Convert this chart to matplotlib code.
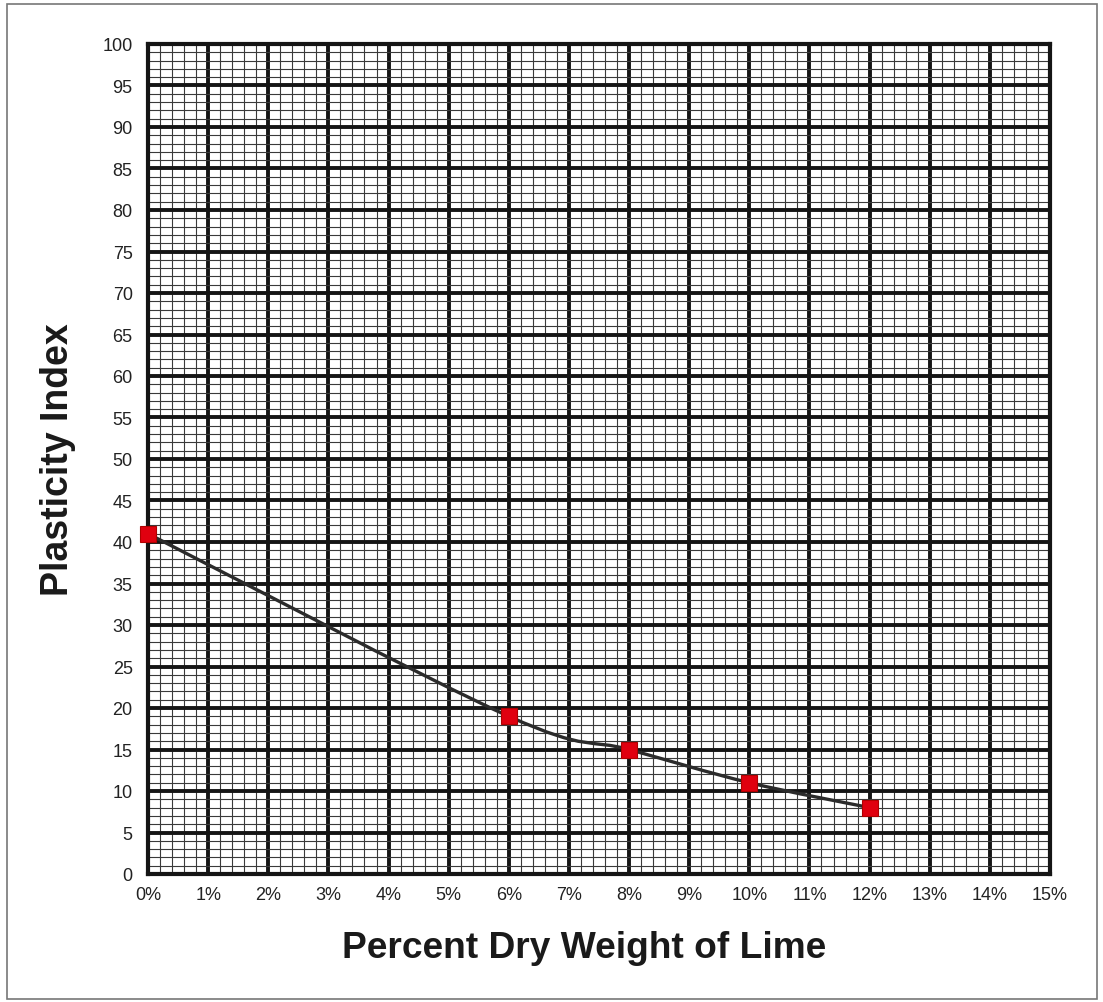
import matplotlib
matplotlib.use("Agg")
import matplotlib.pyplot as plt
from matplotlib.path import Path
from matplotlib.patches import PathPatch, Rectangle
from matplotlib.ticker import MultipleLocator, FuncFormatter
import numpy as np

plt.rcParams['font.family'] = ['Liberation Sans', 'DejaVu Sans']

lime_pct = [0, 6, 8, 10, 12]
plasticity = [41, 19, 15, 11, 8]
x_label = "Percent Dry Weight of Lime"
y_label = "Plasticity Index"

fig = plt.figure(figsize=(11.03, 10.03), dpi=100)
ax = fig.add_axes([148/1103, 1 - 875/1003, (1050-148)/1103, (875-45)/1003])

ax.set_xlim(0, 15)
ax.set_ylim(0, 100)
ax.xaxis.set_major_locator(MultipleLocator(1))
ax.xaxis.set_minor_locator(MultipleLocator(0.2))
ax.yaxis.set_major_locator(MultipleLocator(5))
ax.yaxis.set_minor_locator(MultipleLocator(1))
ax.xaxis.set_major_formatter(FuncFormatter(lambda v, p: f"{int(round(v))}%"))
ax.yaxis.set_major_formatter(FuncFormatter(lambda v, p: f"{int(round(v))}"))

ax.grid(which='minor', color='#3a3a3a', linewidth=0.8)
ax.grid(which='major', color='#151515', linewidth=2.8)
ax.set_axisbelow(True)
ax.tick_params(which='both', length=0)
ax.tick_params(which='major', labelsize=13, colors='#222222')
ax.tick_params(axis='y', which='major', pad=11)
ax.tick_params(axis='x', which='major', pad=9)
for s in ax.spines.values():
    s.set_linewidth(3)
    s.set_color('#151515')

# Smoothed line (Catmull-Rom style bezier, like spreadsheet smoothing)
xs = np.array(lime_pct, dtype=float)
ys = np.array(plasticity, dtype=float)
n = len(xs)
verts = [(xs[0], ys[0])]
codes = [Path.MOVETO]
for i in range(n - 1):
    p0 = np.array([xs[max(i-1, 0)], ys[max(i-1, 0)]])
    p1 = np.array([xs[i], ys[i]])
    p2 = np.array([xs[i+1], ys[i+1]])
    p3 = np.array([xs[min(i+2, n-1)], ys[min(i+2, n-1)]])
    c1 = p1 + (p2 - p0) / 6.0
    c2 = p2 - (p3 - p1) / 6.0
    verts += [tuple(c1), tuple(c2), tuple(p2)]
    codes += [Path.CURVE4] * 3
ax.add_patch(PathPatch(Path(verts, codes), facecolor='none',
                       edgecolor='#2b2b2b', linewidth=2.4, zorder=3))

ax.plot(lime_pct, plasticity, linestyle='none', marker='s', markersize=11.5,
        markerfacecolor='#e0000f', markeredgecolor='#b00000', markeredgewidth=0.8,
        zorder=4, clip_on=False)

ax.set_xlabel(x_label, fontsize=26.7, fontweight='bold', labelpad=18, color='#1a1a1a')
ax.xaxis.set_label_coords(0.484, -0.068)
ax.xaxis.label.set_verticalalignment('top')
ax.set_ylabel(y_label, fontsize=27, fontweight='bold', labelpad=19, color='#1a1a1a')

fig.patches.append(Rectangle((7/1103, 1 - 1000/1003), (1097-7)/1103, (1000-5)/1003,
                             transform=fig.transFigure, fill=False,
                             edgecolor='#777777', linewidth=1.2))

fig.savefig("out.png", dpi=100)
